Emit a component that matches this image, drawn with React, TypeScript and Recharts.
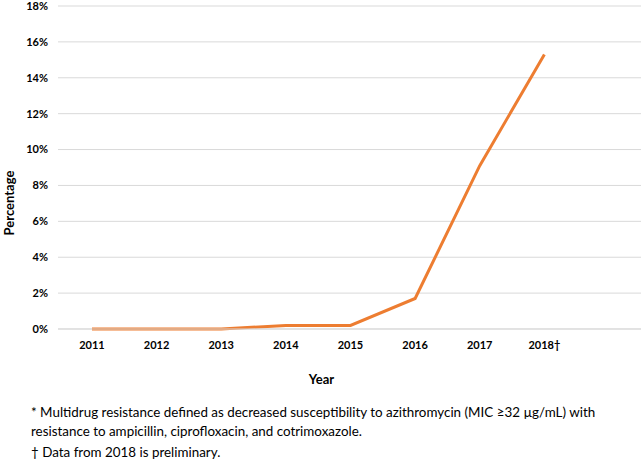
import React from 'react';
import { LineChart, Line, XAxis, YAxis, CartesianGrid, Label } from 'recharts';

const years = ['2011', '2012', '2013', '2014', '2015', '2016', '2017', '2018†', ''];
const percentages = [0, 0, 0, 0.2, 0.2, 1.7, 9.1, 15.3, null];
const yTicks = [0, 2, 4, 6, 8, 10, 12, 14, 16, 18];

const data = years.map((year, i) => ({ year, value: percentages[i] }));

const FONT = 'Lato, "Open Sans", sans-serif';
const ORANGE = '#ED7D31';
const GRID = '#D9D9D9';

const PercentLabel = () => (
  <text
    x={9}
    y={203}
    transform="rotate(-90 9 203)"
    textAnchor="middle"
    dominantBaseline="central"
    fontFamily={FONT}
    fontWeight="bold"
    fontSize={13}
    fill="#000"
  >
    Percentage
  </text>
);

const App: React.FC = () => {
  return (
    <div style={{ position: 'absolute', top: 0, left: 0, width: 643, height: 460, background: '#fff', fontFamily: FONT }}>
      <LineChart
        width={643}
        height={392}
        data={data}
        margin={{ top: 6, right: 2, left: 0, bottom: 0 }}
      >
        <CartesianGrid vertical={false} stroke={GRID} strokeWidth={1} />
        <XAxis
          dataKey="year"
          height={63}
          padding={{ left: 34, right: 32 }}
          axisLine={{ stroke: GRID }}
          tickLine={false}
          tickMargin={6}
          interval={0}
          tick={{ fill: '#000', fontSize: 11, fontWeight: 'bold', fontFamily: FONT }}
        >
          <Label
            value="Year"
            position="insideBottom"
            offset={8}
            dx={-28}
            style={{ fill: '#000', fontSize: 13, fontWeight: 'bold', fontFamily: FONT }}
          />
        </XAxis>
        <YAxis
          width={58}
          domain={[0, 18]}
          ticks={yTicks}
          interval={0}
          axisLine={false}
          tickLine={false}
          tickMargin={4}
          tickFormatter={(v: number) => `${v}%`}
          tick={{ fill: '#000', fontSize: 11, fontWeight: 'bold', fontFamily: FONT }}
        >
          <Label content={<PercentLabel />} />
        </YAxis>
        <Line
          type="linear"
          dataKey="value"
          stroke={ORANGE}
          strokeWidth={3}
          dot={false}
          isAnimationActive={false}
        />
      </LineChart>
      <div style={{ position: 'absolute', left: 31, top: 403, fontSize: 13.4, lineHeight: '19px', color: '#000' }}>
        <div>* Multidrug resistance defined as decreased susceptibility to azithromycin (MIC ≥32 µg/mL) with</div>
        <div>resistance to ampicillin, ciprofloxacin, and cotrimoxazole.</div>
        <div style={{ marginTop: 2 }}>† Data from 2018 is preliminary.</div>
      </div>
    </div>
  );
};

export default App;
